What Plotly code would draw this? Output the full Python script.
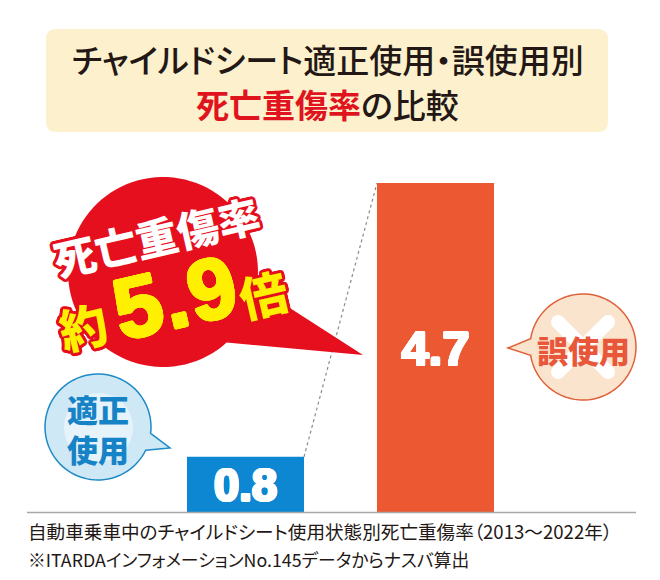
"""Child seat misuse: fatal/serious injury rate comparison."""

import math

import plotly.graph_objects as go

CATEGORIES = ["適正使用", "誤使用"]
VALUES = [0.8, 4.7]
BAR_COLORS = ["#0d87d2", "#ec5831"]
VALUE_LABELS = ["0.8", "4.7"]
TITLE_LINE_1 = "チャイルドシート適正使用・誤使用別"
TITLE_RED = "死亡重傷率"
TITLE_REST = "の比較"
CALLOUT_TOP = "死亡重傷率"
CALLOUT_PREFIX = "約"
CALLOUT_RATIO = "5.9"
CALLOUT_SUFFIX = "倍"
NOTE_1 = "自動車乗車中のチャイルドシート使用状態別死亡重傷率（2013〜2022年）"
NOTE_2 = "※ITARDAインフォメーションNo.145データからナスバ算出"

# the page body has an 8 px margin, so the figure starts at (8, 8)
OFFSET = 8
WIDTH = 644
HEIGHT = 564
JP_FONT = "Noto Sans CJK JP"
BAR_WIDTH = 0.616
RED = "#e60f1e"
PALT = "font-feature-settings:'palt'"


def px(x):
    return (x - OFFSET) / WIDTH


def py(y):
    return 1 - (y - OFFSET) / HEIGHT


def outline(color, w):
    """Fake a text stroke with shadows in sixteen directions."""
    parts = []
    for i in range(16):
        a = i * math.pi / 8
        parts.append(f"{w * math.cos(a):.1f}px {w * math.sin(a):.1f}px 0 {color}")
    return ", ".join(parts)


def bubble_path(cx, cy, r, tip, a1, a2):
    """Circle with a pointed tail, a1/a2 are tail base angles (deg, y down)."""
    pts = []
    steps = 90
    for i in range(steps + 1):
        a = math.radians(a2 + (360 - (a2 - a1)) * i / steps)
        pts.append((cx + r * math.cos(a), cy + r * math.sin(a)))
    pts.append(tip)
    return "M" + " L".join(f"{px(x):.5f},{py(y):.5f}" for x, y in pts) + " Z"


def add_text(fig, x, y, text, size, color, weight=400, angle=0, shadow=None, family=JP_FONT, anchor="center"):
    fig.add_annotation(
        xref="paper", yref="paper", x=px(x), y=py(y), text=text, showarrow=False,
        xanchor=anchor, yanchor="middle", textangle=angle, align="center",
        font=dict(family=family, size=size, color=color, weight=weight, shadow=shadow or "none"),
    )


fig = go.Figure(
    go.Bar(
        x=CATEGORIES,
        y=VALUES,
        width=BAR_WIDTH,
        marker=dict(color=BAR_COLORS, line_width=0),
        text=VALUE_LABELS,
        textposition="inside",
        insidetextanchor="middle",
        textangle=0,
        textfont=dict(family="Liberation Sans", size=49, color="white", weight=700, shadow=outline("white", 1.2)),
        hoverinfo="skip",
    )
)

# title box
r = 10
x0, x1, y0, y1 = 46, 608, 29, 132
fig.add_shape(
    type="path", xref="paper", yref="paper", line_width=0, fillcolor="#fdf1cd",
    path=(
        f"M{px(x0 + r)},{py(y0)} L{px(x1 - r)},{py(y0)} Q{px(x1)},{py(y0)} {px(x1)},{py(y0 + r)} "
        f"L{px(x1)},{py(y1 - r)} Q{px(x1)},{py(y1)} {px(x1 - r)},{py(y1)} "
        f"L{px(x0 + r)},{py(y1)} Q{px(x0)},{py(y1)} {px(x0)},{py(y1 - r)} "
        f"L{px(x0)},{py(y0 + r)} Q{px(x0)},{py(y0)} {px(x0 + r)},{py(y0)} Z"
    ),
)

# dotted link between the two bar tops
fig.add_shape(
    type="line", xref="x", yref="y",
    x0=BAR_WIDTH / 2, y0=VALUES[0], x1=1 - BAR_WIDTH / 2, y1=VALUES[1],
    line=dict(color="#8a8a8a", width=1.2, dash="dot"),
)

# baseline
fig.add_shape(
    type="line", xref="paper", yref="paper",
    x0=px(27), x1=px(636), y0=py(512.5), y1=py(512.5),
    line=dict(color="#a8a8a8", width=1.5),
)

# red callout
fig.add_shape(
    type="path", xref="paper", yref="paper", line_width=0, fillcolor=RED,
    path=bubble_path(163, 272, 95, (363, 355), 9, 48),
)

# misuse bubble
fig.add_shape(
    type="path", xref="paper", yref="paper", fillcolor="#fbe4cd",
    line=dict(color="#e0603a", width=1.5),
    path=bubble_path(583, 347, 53, (508, 348), 171, 189),
)
for xa, xb in [(558, 608), (608, 558)]:
    fig.add_shape(
        type="line", xref="paper", yref="paper",
        x0=px(xa), x1=px(xb), y0=py(322), y1=py(372),
        line=dict(color="white", width=14),
    )
    # round the arm ends
    for cx, cy in [(xa, 322), (xb, 372)]:
        fig.add_shape(
            type="circle", xref="paper", yref="paper", line_width=0, fillcolor="white",
            x0=px(cx - 7), x1=px(cx + 7), y0=py(cy - 7), y1=py(cy + 7),
        )

# correct-use bubble
fig.add_shape(
    type="path", xref="paper", yref="paper", fillcolor="#cfe8f6",
    line=dict(color="#1d8ac7", width=1.5),
    path=bubble_path(98, 427, 53, (170, 448), 7, 26),
)
fig.add_shape(
    type="circle", xref="paper", yref="paper", line_width=0, fillcolor="#e6f3fa",
    x0=px(64), x1=px(133), y0=py(393), y1=py(462),
)

# texts
add_text(fig, 328, 59, f'<span style="{PALT}">{TITLE_LINE_1}</span>', 33, "#231815", 500)
add_text(
    fig, 327, 104,
    f'<span style="color:#e0141e;font-weight:700;{PALT}">{TITLE_RED}</span><span style="{PALT}">{TITLE_REST}</span>',
    33, "#231815", 500,
)

add_text(fig, 156, 235, CALLOUT_TOP, 42, "white", 900, -13, outline(RED, 3))
add_text(fig, 83, 325, CALLOUT_PREFIX, 48, "#ffef00", 900, -13, outline(RED, 3))
add_text(
    fig, 176, 297, f'<span style="letter-spacing:2px">{CALLOUT_RATIO}</span>',
    86, "#ffef00", 700, -13, outline("#ffef00", 1.5), "Liberation Sans",
)
add_text(fig, 263, 293, CALLOUT_SUFFIX, 48, "#ffef00", 900, -13, outline(RED, 3))

add_text(fig, 583, 349, "誤使用", 31, "#e8573a", 900)
add_text(fig, 98, 428, "適正<br>使用", 31, "#1783c7", 900)

add_text(fig, 26, 530, f'<span style="{PALT}">{NOTE_1}</span>', 18.6, "#231815", 400, anchor="left")
add_text(fig, 26, 559, f'<span style="{PALT}">{NOTE_2}</span>', 17.8, "#231815", 400, anchor="left")

# axis ranges put bars where they sit in the picture: 190 px per category, 70.2 px per unit
fig.update_xaxes(range=[(OFFSET - 245.5) / 190, (OFFSET + WIDTH - 245.5) / 190], visible=False)
fig.update_yaxes(range=[(513 - OFFSET - HEIGHT) / 70.2, (513 - OFFSET) / 70.2], visible=False)
fig.update_layout(
    width=WIDTH,
    height=HEIGHT,
    margin=dict(l=0, r=0, t=0, b=0),
    paper_bgcolor="white",
    plot_bgcolor="white",
    showlegend=False,
)

fig.write_html("out.html")
